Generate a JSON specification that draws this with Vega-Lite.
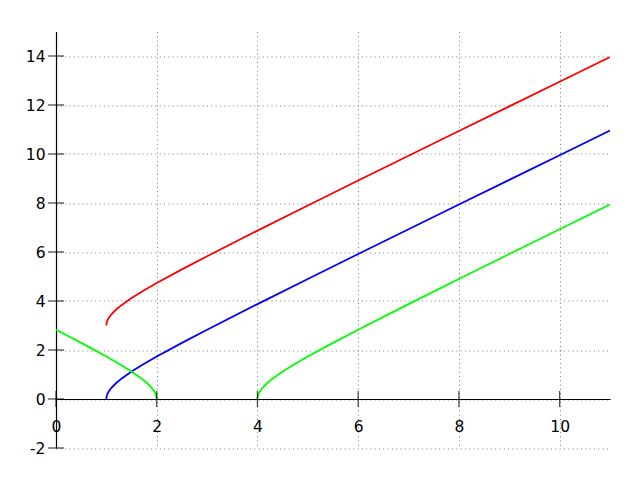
{
  "$schema": "https://vega.github.io/schema/vega-lite/v6.json",
  "width": 554,
  "height": 416.5,
  "autosize": {"type": "none"},
  "padding": {"left": 56, "top": 31.5, "right": 30, "bottom": 32},
  "background": "white",
  "config": {
    "view": {"stroke": null},
    "font": "DejaVu Sans",
    "axis": {
      "labelFont": "DejaVu Sans",
      "labelFontSize": 15.5,
      "labelColor": "black",
      "labelExpr": "datum.value + ''",
      "ticks": false,
      "domainColor": "black",
      "domainWidth": 1.2,
      "gridColor": "#000000",
      "gridOpacity": 0.65,
      "gridWidth": 0.8,
      "gridDash": [1, 3.3],
      "title": null
    }
  },
  "datasets": {
    "curves": [
      {"x": 1, "y": 3, "s": "red"},
      {"x": 1.005, "y": 3.1001, "s": "red"},
      {"x": 1.02, "y": 3.201, "s": "red"},
      {"x": 1.05, "y": 3.3202, "s": "red"},
      {"x": 1.1, "y": 3.4583, "s": "red"},
      {"x": 1.2, "y": 3.6633, "s": "red"},
      {"x": 1.3, "y": 3.8307, "s": "red"},
      {"x": 1.5, "y": 4.118, "s": "red"},
      {"x": 1.75, "y": 4.4361, "s": "red"},
      {"x": 2, "y": 4.7321, "s": "red"},
      {"x": 2.5, "y": 5.2913, "s": "red"},
      {"x": 3, "y": 5.8284, "s": "red"},
      {"x": 4, "y": 6.873, "s": "red"},
      {"x": 5, "y": 7.899, "s": "red"},
      {"x": 6, "y": 8.9161, "s": "red"},
      {"x": 7, "y": 9.9282, "s": "red"},
      {"x": 8, "y": 10.9373, "s": "red"},
      {"x": 9, "y": 11.9443, "s": "red"},
      {"x": 10, "y": 12.9499, "s": "red"},
      {"x": 11, "y": 13.9545, "s": "red"},
      {"x": 1, "y": 0, "s": "blue"},
      {"x": 1.005, "y": 0.1001, "s": "blue"},
      {"x": 1.02, "y": 0.201, "s": "blue"},
      {"x": 1.05, "y": 0.3202, "s": "blue"},
      {"x": 1.1, "y": 0.4583, "s": "blue"},
      {"x": 1.2, "y": 0.6633, "s": "blue"},
      {"x": 1.3, "y": 0.8307, "s": "blue"},
      {"x": 1.5, "y": 1.118, "s": "blue"},
      {"x": 1.75, "y": 1.4361, "s": "blue"},
      {"x": 2, "y": 1.7321, "s": "blue"},
      {"x": 2.5, "y": 2.2913, "s": "blue"},
      {"x": 3, "y": 2.8284, "s": "blue"},
      {"x": 4, "y": 3.873, "s": "blue"},
      {"x": 5, "y": 4.899, "s": "blue"},
      {"x": 6, "y": 5.9161, "s": "blue"},
      {"x": 7, "y": 6.9282, "s": "blue"},
      {"x": 8, "y": 7.9373, "s": "blue"},
      {"x": 9, "y": 8.9443, "s": "blue"},
      {"x": 10, "y": 9.9499, "s": "blue"},
      {"x": 11, "y": 10.9545, "s": "blue"},
      {"x": 0, "y": 2.8284, "s": "greenL"},
      {"x": 0.25, "y": 2.5617, "s": "greenL"},
      {"x": 0.5, "y": 2.2913, "s": "greenL"},
      {"x": 0.75, "y": 2.0156, "s": "greenL"},
      {"x": 1, "y": 1.7321, "s": "greenL"},
      {"x": 1.25, "y": 1.4361, "s": "greenL"},
      {"x": 1.5, "y": 1.118, "s": "greenL"},
      {"x": 1.7, "y": 0.8307, "s": "greenL"},
      {"x": 1.8, "y": 0.6633, "s": "greenL"},
      {"x": 1.9, "y": 0.4583, "s": "greenL"},
      {"x": 1.95, "y": 0.3202, "s": "greenL"},
      {"x": 1.98, "y": 0.201, "s": "greenL"},
      {"x": 1.995, "y": 0.1001, "s": "greenL"},
      {"x": 2, "y": 0, "s": "greenL"},
      {"x": 4, "y": 0, "s": "greenR"},
      {"x": 4.005, "y": 0.1001, "s": "greenR"},
      {"x": 4.02, "y": 0.201, "s": "greenR"},
      {"x": 4.05, "y": 0.3202, "s": "greenR"},
      {"x": 4.1, "y": 0.4583, "s": "greenR"},
      {"x": 4.2, "y": 0.6633, "s": "greenR"},
      {"x": 4.3, "y": 0.8307, "s": "greenR"},
      {"x": 4.5, "y": 1.118, "s": "greenR"},
      {"x": 4.75, "y": 1.4361, "s": "greenR"},
      {"x": 5, "y": 1.7321, "s": "greenR"},
      {"x": 5.5, "y": 2.2913, "s": "greenR"},
      {"x": 6, "y": 2.8284, "s": "greenR"},
      {"x": 7, "y": 3.873, "s": "greenR"},
      {"x": 8, "y": 4.899, "s": "greenR"},
      {"x": 9, "y": 5.9161, "s": "greenR"},
      {"x": 10, "y": 6.9282, "s": "greenR"},
      {"x": 11, "y": 7.9373, "s": "greenR"}
    ],
    "xticks": [{"t": 0}, {"t": 2}, {"t": 4}, {"t": 6}, {"t": 8}, {"t": 10}],
    "yticks": [{"t": -2}, {"t": 0}, {"t": 2}, {"t": 4}, {"t": 6}, {"t": 8}, {"t": 10}, {"t": 12}, {"t": 14}]
  },
  "layer": [
    {
      "data": {"name": "curves"},
      "mark": {"type": "line", "strokeWidth": 1.8, "clip": true},
      "encoding": {
        "x": {
          "field": "x", "type": "quantitative",
          "scale": {"domain": [0, 11], "nice": false, "zero": false},
          "axis": {"values": [0, 2, 4, 6, 8, 10], "offset": -49, "labelPadding": 20, "labelDx": 2, "labelFlush": false}
        },
        "y": {
          "field": "y", "type": "quantitative",
          "scale": {"domain": [-2, 15], "nice": false, "zero": false},
          "axis": {"values": [-2, 0, 2, 4, 6, 8, 10, 12, 14], "labelPadding": 11, "labelFlush": false}
        },
        "color": {
          "field": "s", "type": "nominal",
          "scale": {"domain": ["red", "blue", "greenL", "greenR"], "range": ["#ff0000", "#0000ff", "#00ff00", "#00ff00"]},
          "legend": null
        }
      }
    },
    {
      "data": {"name": "xticks"},
      "mark": {"type": "tick", "orient": "vertical", "size": 16, "thickness": 1.3, "color": "black"},
      "encoding": {
        "x": {"field": "t", "type": "quantitative"},
        "y": {"datum": 0}
      }
    },
    {
      "data": {"name": "yticks"},
      "mark": {"type": "tick", "orient": "horizontal", "size": 16, "thickness": 1.3, "color": "black"},
      "encoding": {
        "y": {"field": "t", "type": "quantitative"},
        "x": {"datum": 0}
      }
    }
  ]
}
